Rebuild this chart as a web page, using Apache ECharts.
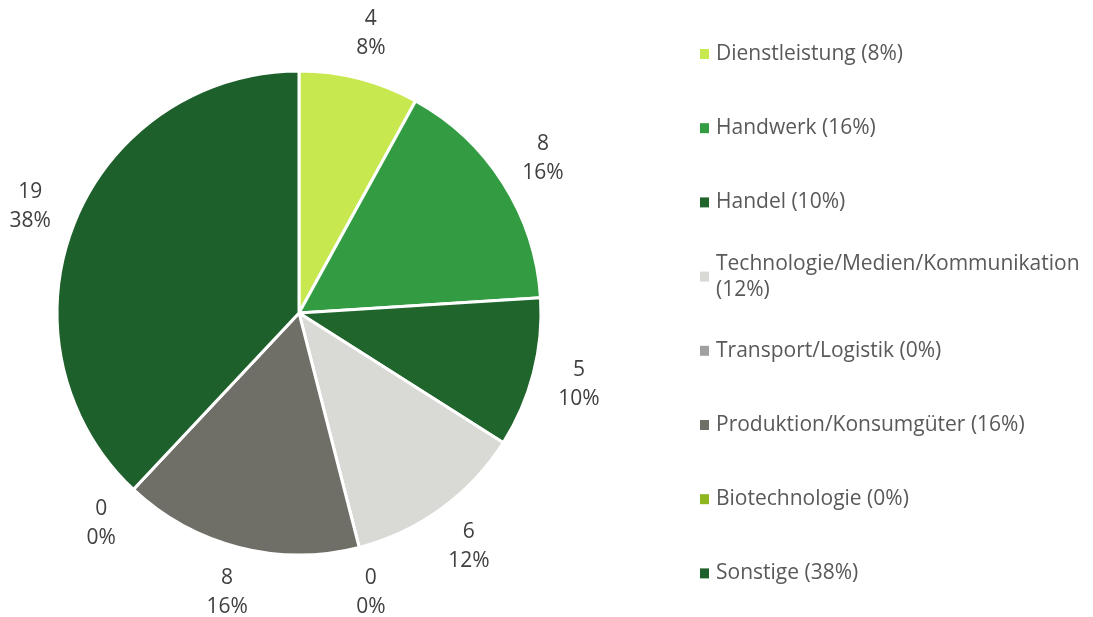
<!DOCTYPE html>
<html>
<head>
<meta charset="utf-8">
<script src="https://cdn.jsdelivr.net/npm/echarts@6/dist/echarts.min.js"></script>
<style>
  html, body { margin: 0; padding: 0; background: #fff; }
  #chart { width: 1093px; height: 617px; }
</style>
</head>
<body>
<div id="chart"></div>
<script>
// Branchen und Anzahl
var categories = ['Dienstleistung', 'Handwerk', 'Handel', 'Technologie/Medien/Kommunikation',
    'Transport/Logistik', 'Produktion/Konsumgüter', 'Biotechnologie', 'Sonstige'];
var counts = [4, 8, 5, 6, 0, 8, 0, 19];
var colors = ['#c8e84f', '#339c42', '#1f652c', '#d9dad5', '#a0a0a0', '#6f6f68', '#8db51c', '#1e602b'];

var total = counts.reduce(function (a, b) { return a + b; }, 0);
var fontName = 'Open Sans';

var chart = echarts.init(document.getElementById('chart'));

var pieData = categories.map(function (name, i) {
    return { name: name, value: counts[i], itemStyle: { color: colors[i] } };
});

// Legende: ein Eintrag pro Zeile, gleichmäßiger Abstand
var legendFirst = 54, legendGap = 74.2, lineH = 26;
var legends = categories.map(function (name, i) {
    var pct = Math.round(counts[i] / total * 100);
    var text = name + ' (' + pct + '%)';
    var wrapped = text.length > 30;
    return {
        data: [name],
        orient: 'vertical',
        left: 700,
        top: legendFirst + i * legendGap - (wrapped ? lineH * 1.5 : lineH / 2),
        padding: 0,
        itemWidth: 9,
        itemHeight: 10,
        icon: 'rect',
        selectedMode: false,
        itemStyle: { borderWidth: 0 },
        formatter: function () { return wrapped ? text.replace(' (', '\n(') : text; },
        textStyle: {
            fontFamily: fontName,
            fontSize: 21,
            color: '#595959',
            lineHeight: lineH,
            padding: [wrapped ? lineH : 0, 0, 0, 2]
        }
    };
});

var option = {
    animation: false,
    legend: legends,
    series: [
        {
            type: 'pie',
            center: [299, 313],
            radius: 242,
            startAngle: 90,
            clockwise: true,
            avoidLabelOverlap: false,
            percentPrecision: 0,
            data: pieData,
            itemStyle: {
                borderColor: '#fff',
                borderWidth: 3
            },
            label: {
                show: true,
                position: 'outside',
                formatter: '{c}\n{d}%',
                fontFamily: fontName,
                fontSize: 21,
                lineHeight: 29,
                color: '#404040',
                distanceToLabelLine: 0
            },
            labelLine: {
                show: false,
                length: 47,
                length2: 0
            },
            labelLayout: {
                align: 'center',
                verticalAlign: 'middle'
            }
        }
    ]
};

chart.setOption(option);
</script>
</body>
</html>
